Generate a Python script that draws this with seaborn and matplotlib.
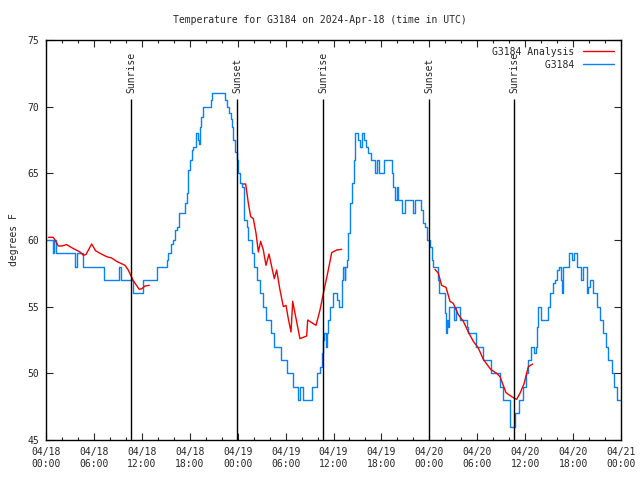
import numpy as np
import pandas as pd
import matplotlib
matplotlib.use("Agg")
import matplotlib.pyplot as plt
import seaborn as sns

# ---- data (hours since 2024-04-18 00:00 UTC) ----
obs_hours = [0.0, 0.9, 1.0, 1.2, 3.63, 3.84, 4.68, 7.22, 9.2, 9.35, 10.85, 12.2, 13.9, 15.1, 15.3,
             15.6, 15.86, 16.1, 16.36, 16.7, 17.4, 17.6, 17.8, 18.03, 18.24, 18.45, 18.78, 19.0,
             19.15, 19.28, 19.4, 19.6, 20.6, 20.83, 22.4, 22.7, 22.95, 23.15, 23.35, 23.45, 23.65,
             23.88, 24.08, 24.29, 24.59, 24.85, 25.13, 25.25, 25.75, 26.05, 26.38, 26.8, 27.21,
             27.55, 28.13, 28.55, 29.38, 30.22, 30.97, 31.6, 31.8, 32.15, 33.27, 33.98, 34.3, 34.5,
             34.7, 34.81, 35.0, 35.15, 35.35, 35.56, 35.98, 36.5, 36.7, 37.02, 37.2, 37.4, 37.5,
             37.65, 37.86, 38.07, 38.3, 38.57, 38.69, 39.11, 39.3, 39.53, 39.85, 40.1, 40.36, 40.7,
             41.2, 41.45, 41.7, 42.3, 43.28, 43.5, 43.7, 43.95, 44.1, 44.54, 44.95, 45.79, 45.91,
             46.21, 46.75, 46.92, 47.17, 47.46, 47.75, 48.08, 48.29, 48.42, 49.04, 49.21, 49.9,
             50.05, 50.2, 50.35, 50.5, 51.05, 51.3, 51.8, 52.67, 52.88, 53.84, 54.68, 55.68, 56.85,
             57.18, 58.1, 58.73, 59.27, 59.77, 60.1, 60.4, 60.69, 61.15, 61.3, 61.44, 61.65, 61.94,
             62.9, 63.11, 63.44, 63.73, 64.03, 64.28, 64.45, 64.55, 64.7, 65.53, 65.9, 66.1, 66.45,
             66.95, 67.28, 67.7, 67.9, 68.12, 68.53, 68.95, 69.37, 69.7, 70.12, 70.41, 70.83, 71.12,
             71.46, 71.9]
obs_temps = [60, 59, 60, 59, 58, 59, 58, 57, 58, 57, 56, 57, 58, 58.5, 59,
             59.7, 60, 60.75, 61, 62, 62.75, 63.5, 65.25, 66, 66.75, 67, 68, 67.5,
             67.2, 68.5, 69.25, 70, 70.5, 71, 70.5, 70, 69.5, 69.1, 68.5, 67.5, 66.6,
             66, 65, 64.25, 64, 61.5, 61, 60, 59, 58, 57, 56, 55,
             54, 53, 52, 51, 50, 49, 48, 49, 48, 49, 50, 50.5, 51.5,
             52.5, 53, 52, 53, 54, 55, 56, 55.5, 55, 57, 58, 57, 58,
             58.5, 60.5, 62.75, 64.25, 66, 68, 67.5, 67, 68, 67.5, 67, 66.5, 66,
             65, 66, 65, 66, 65, 64, 63, 64, 63, 62, 63, 63, 62,
             63, 63, 62.25, 61.25, 61, 60, 59.5, 58.5, 58, 57, 56, 54.5,
             53, 54, 53.5, 55, 54, 55, 54, 53.5, 53, 52, 51, 50, 49,
             48, 46, 47, 48, 49, 50, 51, 52, 51.5, 52, 53.5, 55, 54,
             55, 56, 56.75, 57, 57.75, 58, 57, 56, 58, 59, 58.5, 59, 58,
             57, 58, 56, 56.5, 57, 56, 55, 54, 53, 52, 51, 50, 49,
             48, 48]

ana_hours = [0.3, 0.9, 1.13, 1.54, 2.0, 2.59, 3.0, 3.42, 4.26, 4.67, 5.0, 5.72, 6.2, 6.76, 7.6,
             8.22, 8.85, 9.89, 10.3, 10.93, 11.68, 12.0, 12.4, 12.94,
             24.71, 25.0, 25.34, 25.63, 25.96, 26.3, 26.59, 26.88, 27.21, 27.55, 27.92, 28.26,
             28.59, 28.88, 29.3, 29.72, 30.05, 30.34, 30.68, 30.89, 31.18, 31.8, 32.64, 32.77,
             33.81, 34.31, 34.73, 35.35, 35.77, 36.4, 37.02,
             48.71, 49.13, 49.54, 50.09, 50.59, 51.0, 51.63, 52.26, 52.88, 53.51, 54.13, 54.76,
             55.68, 56.43, 56.85, 57.6, 58.31, 58.94, 59.35, 59.85, 60.4, 60.94]
ana_temps = [60.2, 60.2, 60.0, 59.55, 59.55, 59.66, 59.5, 59.36, 59.1, 58.86, 58.9, 59.7, 59.2,
             59.0, 58.75, 58.65, 58.4, 58.1, 57.75, 56.95, 56.3, 56.35, 56.55, 56.6,
             64.2, 64.2, 62.75, 61.75, 61.6, 60.5, 59.1, 59.9, 59.25, 58.1, 58.95, 58.0,
             57.1, 57.75, 56.25, 55.0, 55.1, 54.1, 53.1, 55.4, 54.5, 52.6, 52.8, 54.0,
             53.6, 54.75, 56.0, 57.75, 59.05, 59.25, 59.3,
             57.8, 57.5, 56.6, 56.45, 55.4, 55.25, 54.4, 53.9, 53.1, 52.4, 51.9, 51.05,
             50.3, 50.0, 49.75, 48.55, 48.25, 48.05, 48.5, 49.2, 50.5, 50.7]
ana_segment = [1] * 24 + [2] * 31 + [3] * 22

sun_hours = [10.64, 23.93, 34.7, 47.97, 58.66]
sun_labels = ["Sunrise", "Sunset", "Sunrise", "Sunset", "Sunrise"]

xtick_hours = list(range(0, 73, 6))
xtick_labels = ["04/18\n00:00", "04/18\n06:00", "04/18\n12:00", "04/18\n18:00",
                "04/19\n00:00", "04/19\n06:00", "04/19\n12:00", "04/19\n18:00",
                "04/20\n00:00", "04/20\n06:00", "04/20\n12:00", "04/20\n18:00",
                "04/21\n00:00"]

obs_df = pd.DataFrame({"hour": obs_hours, "temp": obs_temps})
ana_df = pd.DataFrame({"hour": ana_hours, "temp": ana_temps, "seg": ana_segment})

sns.set_style("ticks")
plt.rcParams["font.family"] = ["DejaVu Sans Mono"]
plt.rcParams["font.size"] = 7

fig = plt.figure(figsize=(6.4, 4.8), dpi=100)
ax = fig.add_axes([46 / 640, 40 / 480, 575 / 640, 400 / 480])

blue = "#0a80f5"
red = "#ee0000"

sns.lineplot(data=obs_df, x="hour", y="temp", ax=ax, color=blue, lw=1.0,
             drawstyle="steps-post", estimator=None, sort=False, legend=False)
sns.lineplot(data=ana_df, x="hour", y="temp", units="seg", estimator=None, ax=ax,
             color=red, lw=1.0, sort=False, legend=False)

ymin, ymax = 45, 75
ax.vlines(sun_hours, ymin, 70.6, color="black", lw=1.0)
for h, lab in zip(sun_hours, sun_labels):
    ax.text(h, 71.0, lab, rotation=90, ha="center", va="bottom", fontsize=7)

ax.set_xlim(0, 72)
ax.set_ylim(ymin, ymax)
ax.set_xticks(xtick_hours)
ax.set_xticklabels(xtick_labels, fontsize=7)
ax.set_xticks(list(range(0, 73, 2)), minor=True)
ax.set_yticks(list(range(45, 76, 5)))
ax.tick_params(axis="both", which="major", direction="in", length=5, width=0.8,
               top=True, right=True, labelsize=7, pad=5)
ax.tick_params(axis="x", which="minor", direction="in", length=2.5, width=0.8, top=True)
for s in ax.spines.values():
    s.set_linewidth(1.0)
    s.set_color("black")
ax.set_xlabel("")
ax.set_ylabel("degrees F", fontsize=7, labelpad=6)

from matplotlib.lines import Line2D
handles = [Line2D([], [], color=red, lw=1.0), Line2D([], [], color=blue, lw=1.0)]
labels = ["G3184 Analysis", "G3184".rjust(14)]
leg = ax.legend(handles, labels, loc="upper right", frameon=False, markerfirst=False,
                handlelength=3.2, handletextpad=0.9, borderaxespad=0.3, labelspacing=0.3,
                fontsize=7)

fig.text(0.5, 1 - 20 / 480, "Temperature for G3184 on 2024-Apr-18 (time in UTC)",
         ha="center", va="center", fontsize=7)

fig.savefig("out.png", dpi=100)
